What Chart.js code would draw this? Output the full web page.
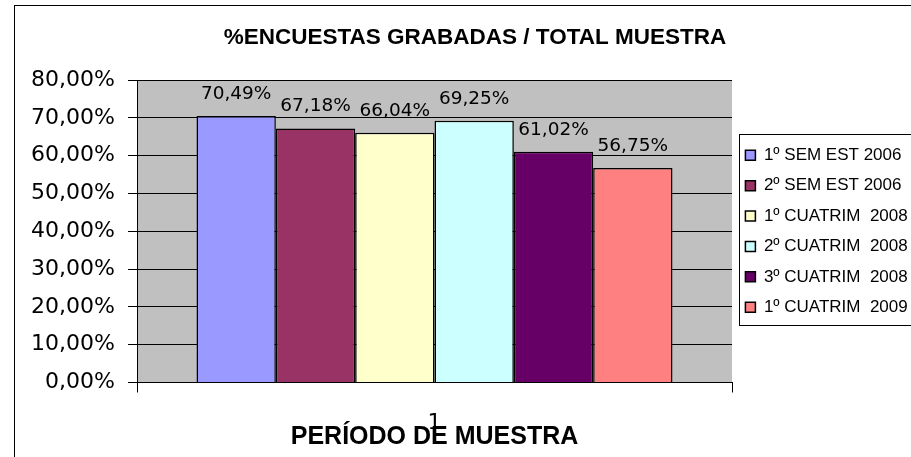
<!DOCTYPE html>
<html>
<head>
<meta charset="utf-8">
<script src="https://cdn.jsdelivr.net/npm/chart.js@4"></script>
<style>
html,body{margin:0;padding:0;background:#fff;overflow:hidden;width:911px;height:457px}
#wrap{width:960px;height:457px}
canvas{display:block}
</style>
</head>
<body>
<div id="wrap"><canvas id="c" width="960" height="457"></canvas></div>
<script>
// ---- data ----
const categories = ['1'];
const seriesNames = ['1º SEM EST 2006', '2º SEM EST 2006', '1º CUATRIM  2008', '2º CUATRIM  2008', '3º CUATRIM  2008', '1º CUATRIM  2009'];
const seriesValues = [70.49, 67.18, 66.04, 69.25, 61.02, 56.75];
const seriesColors = ['#9999FF', '#993366', '#FFFFCC', '#CCFFFF', '#660066', '#FF8080'];
const yTicks = [0, 10, 20, 30, 40, 50, 60, 70, 80];
const chartTitle = '%ENCUESTAS GRABADAS / TOTAL MUESTRA';
const xTitle = 'PERÍODO DE MUESTRA';

const fmt = v => Number(v).toFixed(2).replace('.', ',') + '%';
const ARIAL = '"Liberation Sans", Arial, sans-serif';
const WIDE = '"DejaVu Sans", sans-serif';

const TARGET = {left: 137, right: 732, top: 80, bottom: 382.5};

const decor = {
  id: 'decor',
  beforeDraw(chart) {
    const {ctx, chartArea: a} = chart;
    ctx.save();
    ctx.fillStyle = '#fff';
    ctx.fillRect(0, 0, chart.width, chart.height);
    ctx.fillStyle = '#C0C0C0';
    ctx.fillRect(a.left, a.top, a.right - a.left, a.bottom - a.top);
    ctx.strokeStyle = '#000';
    ctx.lineWidth = 1;
    ctx.strokeRect(14.5, 5.5, 2000, 2000);
    // main title, centred over the whole chart object
    ctx.fillStyle = '#000';
    ctx.font = 'bold 22.5px ' + ARIAL;
    ctx.textAlign = 'center';
    ctx.textBaseline = 'alphabetic';
    ctx.fillText(chartTitle, 475, 44);
    ctx.restore();
  },
  afterDatasetsDraw(chart) {
    const {ctx} = chart;
    ctx.save();
    ctx.fillStyle = '#000';
    ctx.font = '18.5px ' + WIDE;
    ctx.textAlign = 'center';
    ctx.textBaseline = 'alphabetic';
    chart.data.datasets.forEach((ds, i) => {
      const meta = chart.getDatasetMeta(i);
      meta.data.forEach((el, j) => {
        ctx.fillText(fmt(ds.data[j]), el.x, el.y - 17);
      });
    });
    ctx.restore();
  },
  afterDraw(chart) {
    const lg = chart.legend;
    if (!lg || !lg.legendHitBoxes || !lg.legendHitBoxes.length) return;
    const hb = lg.legendHitBoxes;
    const first = hb[0], last = hb[hb.length - 1];
    const {ctx} = chart;
    ctx.save();
    ctx.strokeStyle = '#000';
    ctx.lineWidth = 1;
    const x = Math.round(lg.left + 7) + 0.5;
    const y1 = Math.round(first.top - 13) + 0.5;
    const y2 = Math.round(last.top + last.height + 9) + 0.5;
    ctx.strokeRect(x, y1, 1000, y2 - y1);
    ctx.restore();
  }
};

const datasets = seriesNames.map((name, i) => ({
  label: name,
  data: [seriesValues[i]],
  backgroundColor: seriesColors[i],
  borderColor: '#000',
  borderWidth: 1.5,
  categoryPercentage: 0.8,
  barPercentage: 1
}));

const chart = new Chart(document.getElementById('c'), {
  type: 'bar',
  data: {labels: categories, datasets},
  plugins: [decor],
  options: {
    responsive: false,
    animation: false,
    devicePixelRatio: 1,
    layout: {padding: {left: 0, top: TARGET.top, right: 52, bottom: 0}},
    plugins: {
      title: {display: false},
      tooltip: {enabled: false},
      legend: {
        position: 'right',
        align: 'center',
        fullSize: false,
        labels: {
          boxWidth: 10, boxHeight: 10, padding: 13.4, color: '#000',
          font: {family: ARIAL, size: 17}
        }
      }
    },
    scales: {
      x: {
        grid: {offset: true, drawOnChartArea: false, drawTicks: true, tickLength: 10, color: '#000'},
        border: {display: true, color: '#000'},
        ticks: {color: '#000', padding: 18, font: {family: WIDE, size: 22}},
        title: {display: true, text: xTitle, color: '#000', padding: {top: 5, bottom: 5},
                font: {family: ARIAL, size: 25, weight: 'bold'}},
        afterFit: s => { s.height = 457 - TARGET.bottom; }
      },
      y: {
        min: yTicks[0], max: yTicks[yTicks.length - 1],
        afterBuildTicks: s => { s.ticks = yTicks.map(v => ({value: v})); },
        grid: {color: '#000', tickLength: 9, lineWidth: 1},
        border: {display: true, color: '#000'},
        ticks: {color: '#000', padding: 13, font: {family: WIDE, size: 22}, callback: v => fmt(v)},
        afterFit: s => { s.width = TARGET.left; }
      }
    }
  }
});

// align plot area right edge with reference
for (let k = 0; k < 2; k++) {
  const dx = chart.chartArea.right - TARGET.right;
  if (Math.abs(dx) < 0.25) break;
  chart.options.layout.padding.right += dx;
  chart.update();
}
</script>
</body>
</html>
